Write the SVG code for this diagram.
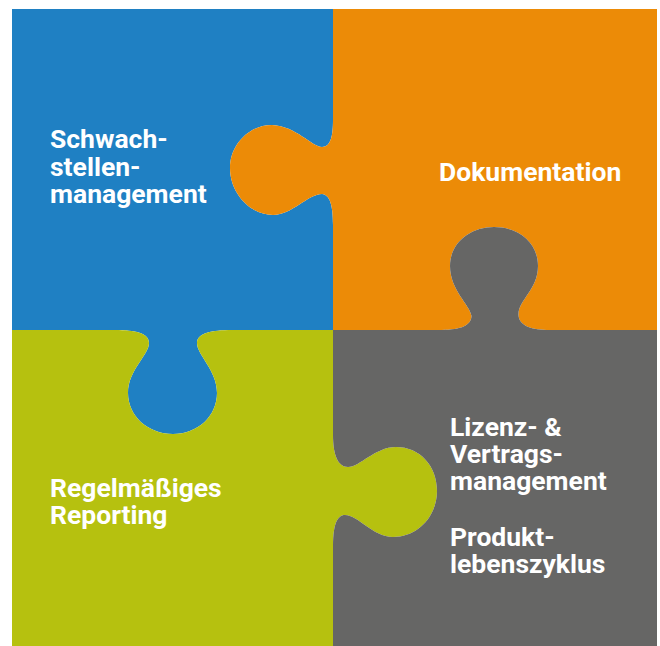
<svg xmlns="http://www.w3.org/2000/svg" width="660" height="646" viewBox="0 0 660 646">
<style>
.lbl{font-family:Roboto,"Liberation Sans",Arial,sans-serif;font-weight:700;font-size:26.5px;fill:#ffffff}
.blue{fill:#1f80c3}.orange{fill:#ec8b07}.green{fill:#b6c10f}.gray{fill:#666665}
</style>
<rect width="660" height="646" fill="#ffffff"/>
<g id="piece-blue">
<path class="blue" d="M 12 9 L 333 9 L 333 120 C 333 135, 331 147, 322 147 C 312 147, 296 126, 272 125 C 249 125, 230 145, 230 168 C 230 193, 250 215, 273 215 C 292 215, 308 194, 322 194 C 330 195, 333 205, 333 225 L 333 330 L 232 330 C 212 330, 197 333, 197 343 C 197 355, 217 370, 217 393 C 217 416, 198 434, 173 434 C 148 434, 128 416, 128 393 C 128 370, 149 355, 149 343 C 149 333, 135 330, 115 330 L 12 330 Z"/>
<text class="lbl" x="50" y="148">Schwach-</text>
<text class="lbl" x="50" y="176">stellen-</text>
<text class="lbl" x="50" y="203">management</text>
</g>
<g id="piece-orange">
<path class="orange" d="M 333 9 L 657 9 L 657 330 L 550 330 C 532 330, 519 326, 518.5 315 C 518 300, 538 290, 538 266 C 538 243, 519 227, 494 227 C 470 227, 450 243, 450 266 C 450 290, 470 305, 471.5 316 C 471 327, 458 330, 438 330 L 333 330 L 333 225 C 333 205, 330 195, 322 194 C 308 194, 292 215, 273 215 C 250 215, 230 193, 230 168 C 230 145, 249 125, 272 125 C 296 126, 312 147, 322 147 C 331 147, 333 135, 333 120 Z"/>
<text class="lbl" x="439" y="181">Dokumentation</text>
</g>
<g id="piece-green">
<path class="green" d="M 12 330 L 115 330 C 135 330, 149 333, 149 343 C 149 355, 128 370, 128 393 C 128 416, 148 434, 173 434 C 198 434, 217 416, 217 393 C 217 370, 197 355, 197 343 C 197 333, 212 330, 232 330 L 333 330 L 333 435 C 333 455, 338 467, 348 467 C 360 467, 375 447, 396 447 C 420 447, 437 466, 437 491 C 437 516, 418 537, 393 537 C 373 537, 358 515, 345 515 C 337 515, 333 525, 333 545 L 333 646 L 12 646 Z"/>
<text class="lbl" x="50" y="497">Regelmäßiges</text>
<text class="lbl" x="50" y="524">Reporting</text>
</g>
<g id="piece-gray">
<path class="gray" d="M 333 330 L 438 330 C 458 330, 471 327, 471.5 316 C 470 305, 450 290, 450 266 C 450 243, 470 227, 494 227 C 519 227, 538 243, 538 266 C 538 290, 518 300, 518.5 315 C 519 326, 532 330, 550 330 L 657 330 L 657 646 L 333 646 L 333 545 C 333 525, 337 515, 345 515 C 358 515, 373 537, 393 537 C 418 537, 437 516, 437 491 C 437 466, 420 447, 396 447 C 375 447, 360 467, 348 467 C 338 467, 333 455, 333 435 Z"/>
<text class="lbl" x="450" y="436">Lizenz- &amp;</text>
<text class="lbl" x="450" y="463">Vertrags-</text>
<text class="lbl" x="450" y="490">management</text>
<text class="lbl" x="450" y="546">Produkt-</text>
<text class="lbl" x="450" y="573">lebenszyklus</text>
</g>
<g id="connectors"></g>
</svg>
